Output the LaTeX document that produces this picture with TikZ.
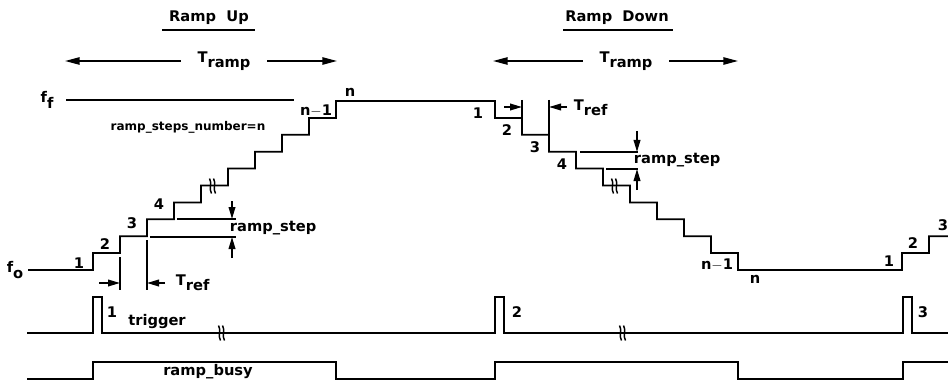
\documentclass[tikz,border=0pt]{standalone}
\usepackage{fontspec}
\setmainfont{DejaVu Sans}
\usetikzlibrary{arrows.meta}
\newcommand\subtxt[1]{\raisebox{-0.65ex}{#1}}
\tikzset{
  sig/.style={line width=1.3pt},
  dimln/.style={line width=1.2pt},
  dimarr/.style={line width=1.2pt,-{Triangle[length=9pt,width=5pt]}},
  spanarr/.style={line width=1.2pt,-{Triangle[length=11pt,width=5.5pt]}},
  lbl/.style={font=\bfseries\fontsize{11}{12}\selectfont,inner sep=0.5pt},
  smlbl/.style={font=\bfseries\fontsize{9}{10}\selectfont,inner sep=0.5pt},
  brk/.pic={\draw[line width=1.1pt] (-3.5,-7.5) .. controls (-0.5,-3) and (-4.5,3) .. (-1.5,7.5);
            \draw[line width=1.1pt] (0.5,-7.5) .. controls (3.5,-3) and (-0.5,3) .. (2.5,7.5);}
}
\begin{document}
\begin{tikzpicture}[x=0.75pt,y=-0.75pt]
  \useasboundingbox (0,0) rectangle (948,381);
  % titles and T_ramp spans
  \node[lbl] (up) at (209,18) {Ramp\ \ Up}; \draw[dimln] (162,30)--(255,30);
  \node[lbl] (down) at (617,18) {Ramp\ \ Down}; \draw[dimln] (563,30)--(673,30);
  \node[lbl] (trup) at (224,61) {T\subtxt{ramp}};
  \coordinate (trupL) at (65,61); \coordinate (trupR) at (337,61);
  \draw[spanarr] ([xshift=-12pt]trup.west|-trupL) -- (trupL);
  \draw[spanarr] ([xshift=12pt]trup.east|-trupR) -- (trupR);
  \node[lbl] (trdn) at (626,61) {T\subtxt{ramp}};
  \coordinate (trdnL) at (493,61); \coordinate (trdnR) at (738,61);
  \draw[spanarr] ([xshift=-12pt]trdn.west|-trdnL) -- (trdnL);
  \draw[spanarr] ([xshift=12pt]trdn.east|-trdnR) -- (trdnR);
  % frequency levels
  \node[lbl] (ff) at (47,100) {f\subtxt{f}}; \draw[sig] (66,100)--(294,100);
  \node[lbl] (fo) at (15,270) {f\subtxt{o}};
  \node[smlbl] (nsteps) at (188,127) {ramp\_steps\_number=n};
  % staircase
  \draw[sig] (28,270)
    \foreach \k in {0,...,9} { -- ({93+27*\k},{270-16.9*\k}) -- ({93+27*\k},{270-16.9*(\k+1)}) } -- (495,101)
    \foreach \k in {0,...,9} { -- ({495+27*\k},{101+16.9*\k}) -- ({495+27*\k},{101+16.9*(\k+1)}) } -- (902,270)
    \foreach \k in {0,1} { -- ({902+27*\k},{270-16.9*\k}) -- ({902+27*\k},{270-16.9*(\k+1)}) } -- (948,236.2);
  \pic at (213,186) {brk}; \pic at (615,186) {brk};
  \node[lbl] (u1) at (79,263) {1}; \node[lbl] (u2) at (105,244) {2};
  \node[lbl] (u3) at (132,223) {3}; \node[lbl] (u4) at (159,204) {4};
  \node[lbl] (unm) at (316,111) {n$-$1}; \node[lbl] (un) at (350,92) {n};
  \node[lbl] (d1) at (478,113) {1}; \node[lbl] (d2) at (507,130) {2};
  \node[lbl] (d3) at (535,147) {3}; \node[lbl] (d4) at (562,164) {4};
  \node[lbl] (dnm) at (717,265) {n$-$1}; \node[lbl] (dn) at (755,279) {n};
  \node[lbl] (r1) at (889,261) {1}; \node[lbl] (r2) at (913,243) {2};
  \node[lbl] (r3) at (943,225) {3};
  % ramp_step, ramp up
  \draw[dimln] (150,237)--(236,237); \draw[dimln] (177,219)--(236,219);
  \draw[dimarr] (232,201)--(232,219); \draw[dimarr] (232,258)--(232,237);
  \node[lbl,anchor=west] (rsup) at (229,228) {ramp\_step};
  % T_ref, ramp up
  \draw[dimln] (120,257)--(120,290); \draw[dimln] (147,240)--(147,290);
  \draw[dimarr] (99,283)--(120,283); \draw[dimarr] (165,283)--(147,283);
  \node[lbl,anchor=west] (tfup) at (175,283) {T\subtxt{ref}};
  % T_ref, ramp down
  \draw[dimln] (522,100)--(522,118); \draw[dimln] (549,100)--(549,135);
  \draw[dimarr] (504,107)--(522,107); \draw[dimarr] (567,107)--(549,107);
  \node[lbl,anchor=west] (tfdn) at (573,108) {T\subtxt{ref}};
  % ramp_step, ramp down
  \draw[dimln] (580,152)--(638,152); \draw[dimln] (606,169)--(638,169);
  \draw[dimarr] (637,131)--(637,152); \draw[dimarr] (637,190)--(637,169);
  \node[lbl,anchor=west] (rsdn) at (633,160) {ramp\_step};
  % trigger
  \draw[sig] (27,333)--(93,333)--(93,297)--(102,297)--(102,333)--(495,333)--(495,297)--(504,297)--(504,333)
    --(903,333)--(903,297)--(912,297)--(912,333)--(948,333);
  \pic at (222,333) {brk}; \pic at (623,333) {brk};
  \node[lbl] (t1) at (112,312) {1}; \node[lbl] (t2) at (517,312) {2}; \node[lbl] (t3) at (923,312) {3};
  \node[lbl] (trig) at (157,322) {trigger};
  % ramp_busy
  \draw[sig] (27,379)--(93,379)--(93,362)--(336,362)--(336,379)--(495,379)--(495,362)--(738,362)--(738,379)
    --(903,379)--(903,362)--(948,362);
  \node[lbl] (busy) at (208,372) {ramp\_busy};
\end{tikzpicture}
\end{document}
